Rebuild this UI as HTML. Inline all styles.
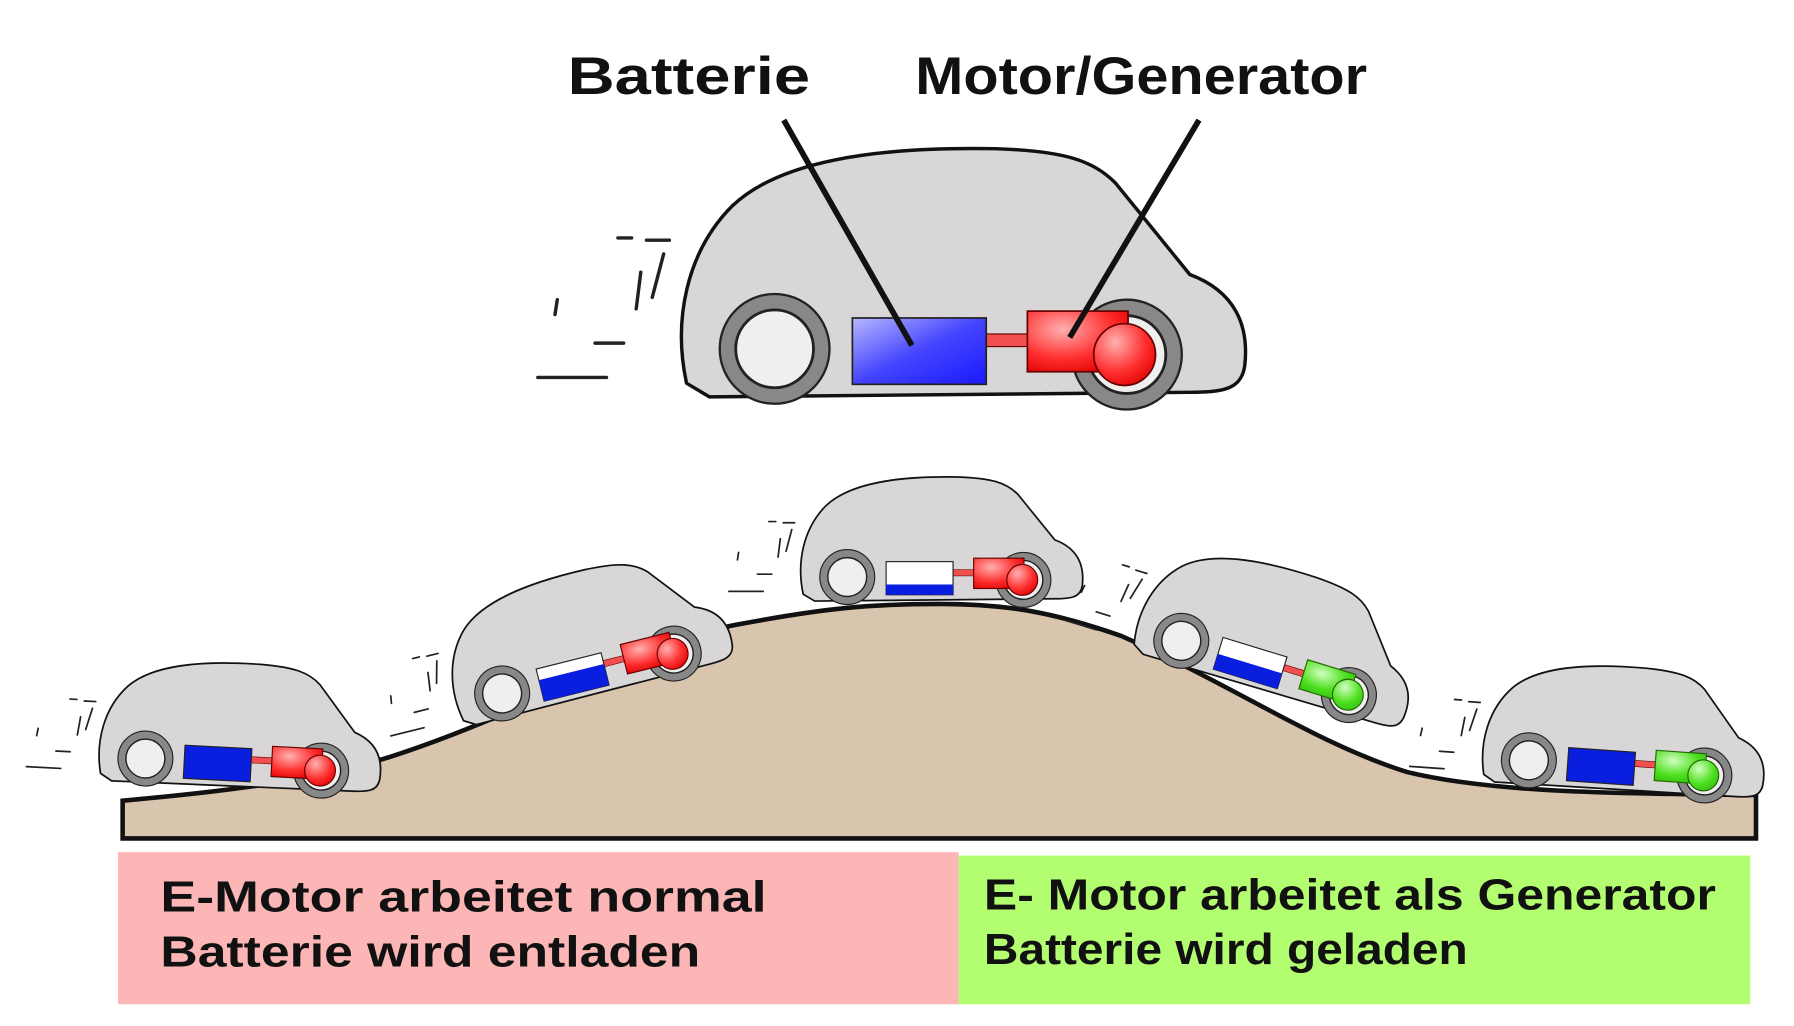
<!DOCTYPE html>
<html><head><meta charset="utf-8"><style>
html,body{margin:0;padding:0;background:#fff;width:1794px;height:1026px;overflow:hidden}
svg{display:block}
text{font-family:"Liberation Sans",sans-serif;fill:#111;font-weight:bold}
</style></head><body>
<svg width="1794" height="1026" viewBox="0 0 1568 897" xmlns="http://www.w3.org/2000/svg">
<defs>
<linearGradient id="bl" x1="0" y1="0" x2="1" y2="1"><stop offset="0" stop-color="#b8b8ff"/><stop offset="0.5" stop-color="#4444ff"/><stop offset="1" stop-color="#1a1aff"/></linearGradient>
<radialGradient id="rd" cx="0.35" cy="0.3" r="0.8"><stop offset="0" stop-color="#ffb0b0"/><stop offset="0.6" stop-color="#ff3030"/><stop offset="1" stop-color="#e00000"/></radialGradient>
<radialGradient id="gr" cx="0.35" cy="0.3" r="0.8"><stop offset="0" stop-color="#d0ffc0"/><stop offset="0.6" stop-color="#50e020"/><stop offset="1" stop-color="#30c010"/></radialGradient>
<g id="body">
<path d="M600,335 C588,280 600,220 640,180 C680,142 760,128 870,130 C930,132 955,140 975,160 L1040,240 C1080,255 1092,285 1088,320 C1085,340 1070,343 1040,343 L620,347 Z" fill="#d8d6d6" stroke="#111" stroke-width="3"/>
<g fill="#888" stroke="#222" stroke-width="2">
<circle cx="677" cy="305" r="48"/><circle cx="985" cy="310" r="48"/></g>
<g fill="#efefef" stroke="#222" stroke-width="2.5">
<circle cx="677" cy="305" r="34"/><circle cx="985" cy="310" r="34"/></g>
<rect x="862" y="292" width="38" height="11" fill="#f05050" stroke="#600" stroke-width="1"/>
</g>
<g id="sp" stroke="#222" stroke-width="3" fill="none" stroke-linecap="round">
<path d="M540,208 L552,208 M565,210 L585,210 M580,222 L570,260 M560,238 L556,270 M487,262 L485,275 M520,300 L545,300 M470,330 L530,330"/>
</g>
</defs>

<!-- top labels -->
<text x="496" y="82" font-size="46" textLength="212" lengthAdjust="spacingAndGlyphs">Batterie</text>
<text x="800" y="82" font-size="46" textLength="395" lengthAdjust="spacingAndGlyphs">Motor/Generator</text>

<!-- top car -->
<use href="#sp"/>
<use href="#body"/>
<rect x="745" y="278" width="117" height="58" fill="url(#bl)" stroke="#222" stroke-width="1.5"/>
<rect x="898" y="272" width="88" height="53" fill="url(#rd)" stroke="#600" stroke-width="1.5"/>
<circle cx="983" cy="310" r="27" fill="url(#rd)" stroke="#600" stroke-width="1.5"/>
<path d="M685,105 L797,302 M1048,105 L935,295" stroke="#111" stroke-width="5"/>

<!-- hill -->
<path d="M107,700 C220,690 280,680 340,662 C470,620 560,560 650,545 C720,532 760,528 820,528 C880,528 920,535 980,556 C1080,600 1150,650 1230,675 C1300,692 1400,694 1535,695 L1535,733 L107,733 Z" fill="#d9c5ad" stroke="#111" stroke-width="4"/>

<!-- small cars -->
<g transform="translate(210,635) rotate(3) scale(0.5) translate(-840,-240)"><use href="#sp"/><use href="#body"/>
<rect x="745" y="278" width="117" height="58" fill="#0a1ee0" stroke="#222" stroke-width="2"/>
<rect x="898" y="272" width="88" height="53" fill="url(#rd)" stroke="#600" stroke-width="2"/><circle cx="983" cy="310" r="27" fill="url(#rd)" stroke="#600" stroke-width="2"/></g>

<g transform="translate(510,555) rotate(-14) scale(0.5) translate(-840,-240)"><use href="#sp"/><use href="#body"/>
<rect x="745" y="278" width="117" height="58" fill="#fff" stroke="#222" stroke-width="2"/><rect x="745" y="298" width="117" height="38" fill="#0a1ee0"/>
<rect x="898" y="272" width="88" height="53" fill="url(#rd)" stroke="#600" stroke-width="2"/><circle cx="983" cy="310" r="27" fill="url(#rd)" stroke="#600" stroke-width="2"/></g>

<g transform="translate(822,472) scale(0.5) translate(-840,-240)"><use href="#sp"/><use href="#body"/>
<rect x="745" y="278" width="117" height="58" fill="#fff" stroke="#222" stroke-width="2"/><rect x="745" y="318" width="117" height="18" fill="#0a1ee0"/>
<rect x="898" y="272" width="88" height="53" fill="url(#rd)" stroke="#600" stroke-width="2"/><circle cx="983" cy="310" r="27" fill="url(#rd)" stroke="#600" stroke-width="2"/></g>

<g transform="translate(1120,553) rotate(17) scale(0.5) translate(-840,-240)"><use href="#sp"/><use href="#body"/>
<rect x="745" y="278" width="117" height="58" fill="#fff" stroke="#222" stroke-width="2"/><rect x="745" y="308" width="117" height="28" fill="#0a1ee0"/>
<rect x="898" y="272" width="88" height="53" fill="url(#gr)" stroke="#260" stroke-width="2"/><circle cx="983" cy="310" r="27" fill="url(#gr)" stroke="#260" stroke-width="2"/></g>

<g transform="translate(1420,638) rotate(4) scale(0.5) translate(-840,-240)"><use href="#sp"/><use href="#body"/>
<rect x="745" y="278" width="117" height="58" fill="#0a1ee0" stroke="#222" stroke-width="2"/>
<rect x="898" y="272" width="88" height="53" fill="url(#gr)" stroke="#260" stroke-width="2"/><circle cx="983" cy="310" r="27" fill="url(#gr)" stroke="#260" stroke-width="2"/></g>

<!-- bottom boxes -->
<rect x="103" y="745" width="735" height="133" fill="#fdb6b6"/>
<rect x="838" y="748" width="692" height="130" fill="#b3fd70"/>
<text x="140" y="797" font-size="38" textLength="530" lengthAdjust="spacingAndGlyphs">E-Motor arbeitet normal</text>
<text x="140" y="845" font-size="38" textLength="472" lengthAdjust="spacingAndGlyphs">Batterie wird entladen</text>
<text x="860" y="795" font-size="38" textLength="640" lengthAdjust="spacingAndGlyphs">E- Motor arbeitet als Generator</text>
<text x="860" y="843" font-size="38" textLength="423" lengthAdjust="spacingAndGlyphs">Batterie wird geladen</text>
</svg>
</body></html>
